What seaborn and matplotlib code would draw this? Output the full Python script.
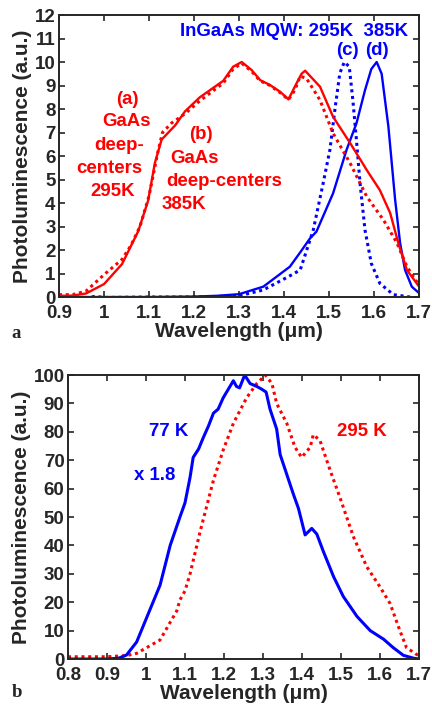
import pandas as pd
import seaborn as sns
import matplotlib.pyplot as plt

# panel a: GaAs deep centers and InGaAs MQW
wl_a = [0.90, 0.93, 0.96, 1.00, 1.04, 1.076, 1.098, 1.113, 1.128, 1.158, 1.18, 1.213, 1.265, 1.287,
        1.306, 1.328, 1.347, 1.369, 1.391, 1.41, 1.424, 1.439, 1.447, 1.48, 1.509, 1.547, 1.584,
        1.613, 1.636, 1.654, 1.673, 1.70]
pl_a = [0.05, 0.06, 0.15, 0.55, 1.4, 2.8, 4.1, 5.7, 6.7, 7.3, 7.9, 8.5, 9.2, 9.8,
        10.0, 9.66, 9.23, 9.02, 8.74, 8.41, 8.95, 9.5, 9.63, 8.95, 7.67, 6.55, 5.4,
        4.55, 3.57, 2.3, 1.15, 0.45]

wl_b = [0.90, 0.93, 0.96, 1.00, 1.04, 1.06, 1.08, 1.10, 1.12, 1.13, 1.15, 1.18, 1.213, 1.265, 1.287,
        1.306, 1.328, 1.347, 1.369, 1.391, 1.41, 1.424, 1.436, 1.45, 1.48, 1.509, 1.547, 1.584,
        1.621, 1.651, 1.673, 1.70]
pl_b = [0.1, 0.1, 0.25, 0.95, 1.6, 2.2, 3.0, 4.3, 6.2, 7.0, 7.4, 7.8, 8.35, 9.1, 9.7,
        9.95, 9.6, 9.2, 9.0, 8.7, 8.4, 8.8, 9.4, 9.3, 8.38, 6.97, 5.69, 4.27,
        3.28, 2.3, 1.3, 0.5]

wl_c = [0.90, 0.92, 0.95, 0.98, 1.0, 1.1, 1.2, 1.3, 1.354, 1.413, 1.436, 1.465, 1.487, 1.502, 1.513,
        1.524, 1.534, 1.545, 1.553, 1.561, 1.569, 1.58, 1.594, 1.613, 1.643, 1.67, 1.695, 1.70]
pl_c = [-0.1, 0.02, -0.08, 0.03, -0.02, 0.0, 0.0, 0.05, 0.3, 0.9, 1.15, 2.85, 4.84, 6.26, 7.96,
        9.52, 10.0, 9.8, 8.38, 6.68, 4.84, 2.85, 1.43, 0.58, 0.1, 0.03, -0.05, 0.0]

wl_d = [0.90, 1.0, 1.1, 1.2, 1.25, 1.30, 1.354, 1.413, 1.436, 1.458, 1.472, 1.509, 1.539, 1.561, 1.58,
        1.594, 1.606, 1.617, 1.632, 1.647, 1.658, 1.669, 1.684, 1.70]
pl_d = [0.0, 0.0, 0.0, 0.02, 0.05, 0.12, 0.44, 1.29, 1.9, 2.5, 2.78, 4.41, 6.26, 7.39, 8.8,
        9.7, 10.0, 9.5, 7.25, 4.13, 2.3, 1.15, 0.44, 0.17]

# panel b: 77 K (x 1.8) and 295 K
wl_77 = [0.80, 0.90, 0.93, 0.95, 0.976, 1.0, 1.036, 1.062, 1.087, 1.10, 1.113, 1.121, 1.135, 1.147,
         1.16, 1.173, 1.185, 1.198, 1.224, 1.232, 1.24, 1.253, 1.267, 1.284, 1.297, 1.308, 1.318,
         1.335, 1.344, 1.361, 1.378, 1.391, 1.408, 1.425, 1.438, 1.455, 1.481, 1.506, 1.541,
         1.575, 1.609, 1.634, 1.66, 1.686, 1.70]
pl_77 = [0.0, 0.0, 0.3, 1.4, 6.0, 14.0, 26.0, 40.0, 50.0, 55.0, 64.0, 71.0, 74.0, 78.0,
         82.0, 86.6, 88.0, 92.0, 98.0, 96.0, 95.5, 100.0, 97.0, 96.0, 95.0, 94.0, 88.0,
         81.0, 72.0, 65.0, 58.0, 53.0, 43.7, 46.0, 44.0, 37.8, 29.0, 22.0, 15.0,
         10.0, 7.0, 4.0, 1.3, 0.3, 0.0]

wl_295 = [0.80, 0.90, 0.95, 0.976, 1.036, 1.079, 1.087, 1.10, 1.113, 1.139, 1.173, 1.198, 1.224,
          1.258, 1.284, 1.306, 1.323, 1.335, 1.361, 1.382, 1.399, 1.421, 1.429, 1.446, 1.472,
          1.497, 1.532, 1.566, 1.60, 1.626, 1.651, 1.668, 1.694, 1.70]
pl_295 = [0.8, 0.8, 1.2, 2.0, 6.7, 17.0, 20.8, 24.0, 30.0, 45.0, 63.0, 73.6, 83.0,
          92.0, 97.0, 100.0, 97.0, 90.0, 83.0, 74.6, 71.0, 74.6, 79.0, 77.0, 66.5,
          57.0, 43.0, 32.5, 25.4, 19.5, 10.0, 4.0, 1.6, 1.2]

sns.set_style("ticks")
plt.rcParams['font.family'] = ['Liberation Sans', 'DejaVu Sans']
plt.rcParams['font.weight'] = 'bold'
plt.rcParams['axes.labelweight'] = 'bold'
plt.rcParams['axes.linewidth'] = 1.4

red = '#ff0000'
blue = '#0000ff'
dots = (0, (1, 1.2))

fig = plt.figure(figsize=(4.32, 7.05), dpi=100)
ax1 = fig.add_axes([0.1366, 0.5787, 0.8333, 0.4])
ax2 = fig.add_axes([0.1574, 0.0652, 0.8125, 0.4028])

sns.lineplot(x=wl_c, y=pl_c, ax=ax1, color=blue, lw=2.2, linestyle=dots, estimator=None, sort=False)
sns.lineplot(x=wl_d, y=pl_d, ax=ax1, color=blue, lw=1.7, estimator=None, sort=False)
sns.lineplot(x=wl_b, y=pl_b, ax=ax1, color=red, lw=2.2, linestyle=dots, estimator=None, sort=False)
sns.lineplot(x=wl_a, y=pl_a, ax=ax1, color=red, lw=1.7, estimator=None, sort=False)

sns.lineplot(x=wl_295, y=pl_295, ax=ax2, color=red, lw=2.2, linestyle=dots, estimator=None, sort=False)
sns.lineplot(x=wl_77, y=pl_77, ax=ax2, color=blue, lw=2.2, estimator=None, sort=False)

ax1.set_xlim(0.9, 1.7)
ax1.set_ylim(0, 12)
ax1.set_xticks([0.9, 1.0, 1.1, 1.2, 1.3, 1.4, 1.5, 1.6, 1.7])
ax1.set_xticklabels(['0.9', '1', '1.1', '1.2', '1.3', '1.4', '1.5', '1.6', '1.7'])
ax1.set_yticks(range(0, 13))

ax2.set_xlim(0.8, 1.7)
ax2.set_ylim(0, 100)
ax2.set_xticks([0.8, 0.9, 1.0, 1.1, 1.2, 1.3, 1.4, 1.5, 1.6, 1.7])
ax2.set_xticklabels(['0.8', '0.9', '1', '1.1', '1.2', '1.3', '1.4', '1.5', '1.6', '1.7'])
ax2.set_yticks(range(0, 101, 10))

for ax in (ax1, ax2):
    ax.tick_params(direction='in', top=True, right=True, length=4, width=1.2,
                   labelsize=13.5)
    ax.tick_params(axis='x', pad=5.5)
    ax.tick_params(axis='y', pad=2.5)
    for lab in ax.get_xticklabels() + ax.get_yticklabels():
        lab.set_fontweight('bold')
    ax.set_xlabel('Wavelength (\u03bcm)', fontsize=15, fontweight='bold', labelpad=0.5)
    ax.set_ylabel('Photoluminescence (a.u.)', fontsize=15, fontweight='bold', labelpad=2)

fs = 13.4
ax1.text(1.676, 11.3, 'InGaAs MQW: 295K  385K', color=blue, fontsize=fs, fontweight='bold',
         ha='right', va='center')
ax1.text(1.54, 10.5, '(c)', color=blue, fontsize=fs, fontweight='bold', ha='center', va='center')
ax1.text(1.607, 10.5, '(d)', color=blue, fontsize=fs, fontweight='bold', ha='center', va='center')

for s, x, y in [('(a)', 1.053, 8.4), ('GaAs', 1.051, 7.45), ('deep-', 1.034, 6.45),
                ('centers', 1.012, 5.47), ('295K', 1.02, 4.5)]:
    ax1.text(x, y, s, color=red, fontsize=fs, fontweight='bold', ha='center', va='center')
for s, x, y in [('(b)', 1.215, 6.9), ('GaAs', 1.202, 5.9), ('deep-centers', 1.267, 4.9),
                ('385K', 1.178, 3.95)]:
    ax1.text(x, y, s, color=red, fontsize=fs, fontweight='bold', ha='center', va='center')

ax2.text(1.059, 80, '77 K', color=blue, fontsize=fs, fontweight='bold', ha='center', va='center')
ax2.text(1.023, 64.8, 'x 1.8', color=blue, fontsize=fs, fontweight='bold', ha='center', va='center')
ax2.text(1.554, 80, '295 K', color=red, fontsize=fs, fontweight='bold', ha='center', va='center')

fig.text(0.037, 0.527, 'a', family=['Liberation Serif', 'DejaVu Serif'], fontsize=13.5,
         fontweight='bold', ha='center', va='center')
fig.text(0.04, 0.018, 'b', family=['Liberation Serif', 'DejaVu Serif'], fontsize=13.5,
         fontweight='bold', ha='center', va='center')

fig.savefig('out.png', dpi=100)
